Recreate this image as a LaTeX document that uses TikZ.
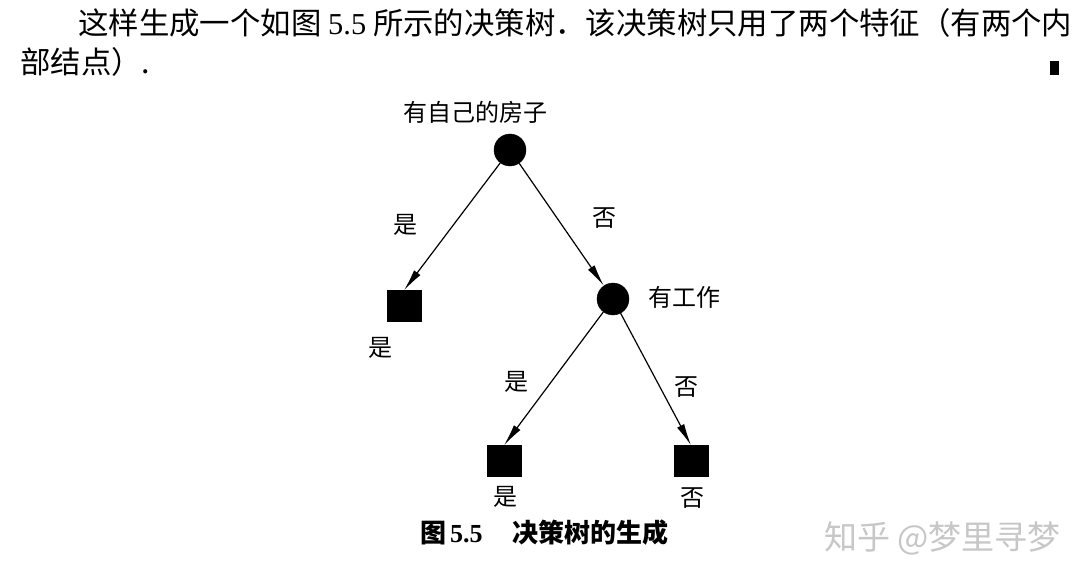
\documentclass[tikz,border=0pt]{standalone}
\usepackage{fontspec}
\setmainfont{Noto Sans CJK SC}
\newfontfamily\numfont{Liberation Serif}
\usetikzlibrary{arrows.meta}
\tikzset{
  inode/.style={circle,fill=black,draw=black,minimum size=32pt,inner sep=0pt},
  leaf/.style={rectangle,fill=black,draw=black,minimum width=34pt,minimum height=31pt,inner sep=0pt},
  lbl/.style={inner sep=0pt,font=\fontsize{24pt}{27pt}\selectfont},
  body/.style={inner sep=0pt,anchor=west,font=\fontsize{30.4pt}{33pt}\selectfont},
  arr/.style={-{Latex[length=22pt,width=8pt]},line width=1.2pt}
}
\begin{document}
\begin{tikzpicture}[x=1pt,y=-1pt]
\fill[white] (0,0) rectangle (1084,580);
\useasboundingbox (0,0) rectangle (1084,580);
% body text
\node[body] (t1) at (78,23) {这样生成一个如图 {\numfont 5.5} 所示的决策树．该决策树只用了两个特征（有两个内};
\node[body] (t2) at (20,62) {部结点）.};
\node[rectangle,fill=black,minimum width=9pt,minimum height=14pt,inner sep=0pt] (endmark) at (1054,68) {};
% tree
\node[inode] (root) at (510,150) {};
\node[lbl] (rootl) at (475,112) {有自己的房子};
\node[leaf] (la) at (404,306) {};
\node[lbl] (lal) at (380,348) {是};
\node[inode] (job) at (613,299) {};
\node[lbl] (jobl) at (684,297) {有工作};
\node[leaf] (lb) at (504,461) {};
\node[lbl] (lbl) at (505,497) {是};
\node[leaf] (lc) at (691,461) {};
\node[lbl] (lcl) at (692,498) {否};
\draw[arr] (root) -- (la.north);
\draw[arr] (root) -- (job);
\draw[arr] (job) -- (lb.north);
\draw[arr] (job) -- (lc.north);
\node[lbl] (e1) at (405,225) {是};
\node[lbl] (e2) at (604,218) {否};
\node[lbl] (e3) at (516,382) {是};
\node[lbl] (e4) at (686,387) {否};
% caption
\node[inner sep=0pt,anchor=west,font=\fontsize{26pt}{29pt}\selectfont\bfseries] (cap) at (420,533) {图\hspace{4pt}{\numfont\bfseries 5.5}\hspace{30pt}决策树的生成};
% watermark
\node[inner sep=0pt,anchor=west,text=black!22,font=\fontsize{33pt}{36pt}\selectfont] (wm) at (824,538) {知乎 @梦里寻梦};
\end{tikzpicture}
\end{document}
